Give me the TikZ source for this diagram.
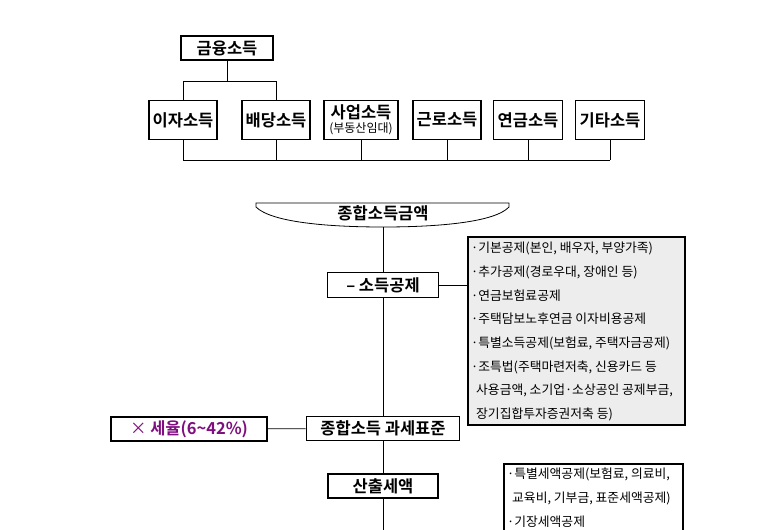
\documentclass[tikz,border=0pt]{standalone}
\usepackage{fontspec}
\setmainfont{Noto Sans CJK KR}[BoldFont={Noto Sans CJK KR Bold}]
\usetikzlibrary{calc,positioning}
\usepackage{xcolor}
\definecolor{ratepurple}{HTML}{7F0F7F}
\definecolor{listgray}{HTML}{EDEDED}

\tikzset{
  incbox/.style={draw=black, line width=1.6pt, fill=white, align=center, inner sep=0pt,
    font=\bfseries\fontsize{16.5}{18}\selectfont},
  listbox/.style={align=left, inner xsep=3pt, inner ysep=3pt,
    anchor=north west, font=\fontsize{12.8}{23.7}\selectfont},
  listframe/.style={draw=black, line width=1.6pt},
  link/.style={draw=black, line width=0.8pt}
}

\begin{document}
\begin{tikzpicture}[x=1pt,y=-1pt]
  \useasboundingbox (0,0) rectangle (779,530);
  \clip (0,0) rectangle (779,530);

  % income types
  \node[incbox, minimum width=92, minimum height=24] (fin) at (227,48) {금융소득};
  \foreach \nm/\cx/\bw/\txt in {
    int/183/68/{이자소득},
    div/276/68/{배당소득},
    biz/361/74/{사업소득\\[-4pt]{\mdseries\fontsize{12}{13}\selectfont(부동산임대)}},
    lab/447/68/{근로소득},
    pen/528/69/{연금소득},
    oth/610/69/{기타소득}%
  } {
    \node[incbox, minimum width=\bw, minimum height=39] (\nm) at (\cx,120) {\txt};
  }
  \coordinate (finjoin) at (0,81);
  \coordinate (sumjoin) at (0,160);
  \draw[link] (int.north) |- (finjoin -| div.north) -- (div.north);
  \draw[link] (fin.south) -- (fin.south |- finjoin);
  \foreach \nm in {int,div,biz,lab,pen,oth}
    \draw[link] (\nm.south) -- (\nm.south |- sumjoin);
  \draw[link] (int.south |- sumjoin) -- (oth.south |- sumjoin);

  % tax flow
  \draw[line width=0.8pt, fill=white] (256,203) -- (509,203) -- (509,207)
    .. controls (495,222) and (440,227) .. (383,227)
    .. controls (326,227) and (271,222) .. (256,207) -- cycle;
  \node[font=\bfseries\fontsize{16.5}{18}\selectfont] (total) at (383,213) {종합소득금액};
  \coordinate (totalbot) at (383,227);

  \node[incbox, minimum width=111, minimum height=25] (ded) at (383,285) {– 소득공제};
  \node[incbox, minimum width=153, minimum height=24] (std) at (383,428.5) {종합소득 과세표준};
  \node[incbox, minimum width=156, minimum height=24, text=ratepurple] (rate) at (189,429)
    {{\mdseries ×} 세율(6\textasciitilde42\%)};
  \node[incbox, minimum width=110, minimum height=24] (calc) at (383,486) {산출세액};
  \coordinate (pagebot) at (383,535);

  % deduction lists
  \fill[listgray] (468,237) rectangle (685,425);
  \node[listbox] (dedlist) at (468,239) {%
    ·기본공제(본인, 배우자, 부양가족)\\
    ·추가공제(경로우대, 장애인 등)\\
    ·연금보험료공제\\
    ·주택담보노후연금 이자비용공제\\
    ·특별소득공제(보험료, 주택자금공제)\\
    ·조특법(주택마련저축, 신용카드 등\\
    \hspace*{5pt}사용금액, 소기업·소상공인 공제부금,\\
    \hspace*{5pt}장기집합투자증권저축 등)};
  \draw[listframe] (468,237) rectangle (685,425);
  \node[listbox] (credlist) at (504,465) {%
    ·특별세액공제(보험료, 의료비,\\
    \hspace*{5pt}교육비, 기부금, 표준세액공제)\\
    ·기장세액공제};
  \draw[listframe] (credlist.north west) ++(0,-1) rectangle ++(179,80);

  \draw[link] (totalbot) -- (ded);
  \draw[link] (ded) -- (std);
  \draw[link] (std) -- (calc);
  \draw[link] (calc) -- (pagebot);
  \draw[link] (rate) -- (std);
  \draw[link] (ded.east) -- (468,285);
\end{tikzpicture}
\end{document}
